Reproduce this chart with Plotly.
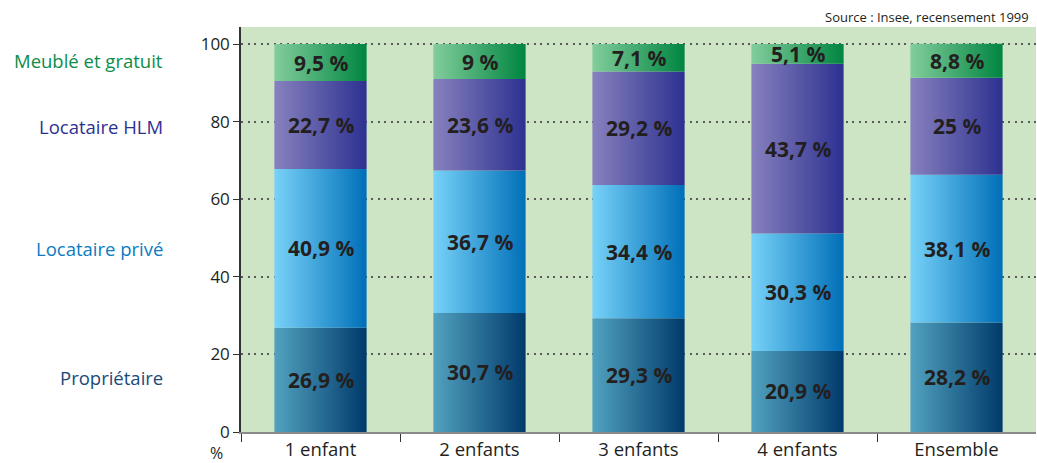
import plotly.graph_objects as go

# Household categories (x axis) and housing status shares, in %
categories = ["1 enfant", "2 enfants", "3 enfants", "4 enfants", "Ensemble"]
series_names = ["Propriétaire", "Locataire privé", "Locataire HLM", "Meublé et gratuit"]
proprietaire = [26.9, 30.7, 29.3, 20.9, 28.2]
locataire_prive = [40.9, 36.7, 34.4, 30.3, 38.1]
locataire_hlm = [22.7, 23.6, 29.2, 43.7, 25.0]
meuble_gratuit = [9.5, 9.0, 7.1, 5.1, 8.8]
y_ticks = [0, 20, 40, 60, 80, 100]

series_values = [proprietaire, locataire_prive, locataire_hlm, meuble_gratuit]

# Horizontal gradient (light -> dark) per series, and label colours
gradients = [
    ("#52a2c0", "#003a6a"),
    ("#78d2f8", "#006fb8"),
    ("#8781be", "#2d3190"),
    ("#82cd9c", "#008540"),
]
label_colors = ["#1a4a78", "#0a7cc1", "#2e3192", "#0d8c4a"]

FONT = "Open Sans"
TEXT_DARK = "#231f20"
BAR_WIDTH = 0.58
PLOT_W = 795
PLOT_H = 405
LEFT = 241

fig = go.Figure()

# Each stacked segment is a filled polygon with a horizontal gradient
for s, values in enumerate(series_values):
    c0, c1 = gradients[s]
    for i, v in enumerate(values):
        base = sum(series_values[k][i] for k in range(s))
        top = base + v
        x0, x1 = i - BAR_WIDTH / 2, i + BAR_WIDTH / 2
        fig.add_trace(go.Scatter(
            x=[x0, x1, x1, x0, x0],
            y=[base, base, top, top, base],
            mode="lines",
            line=dict(width=0),
            fill="toself",
            fillgradient=dict(type="horizontal",
                              colorscale=[[0, c0], [1, c1]]),
            hoverinfo="skip",
            showlegend=False,
        ))
        label = f"{v:g}".replace(".", ",") + " %"
        fig.add_annotation(
            x=i, y=base + v / 2, xref="x", yref="y",
            text=f"<b>{label}</b>", showarrow=False,
            font=dict(family=FONT, size=21, color=TEXT_DARK),
        )

# Series names on the left, level with the "Ensemble" segments
ens = [v[-1] for v in series_values]
for s, name in enumerate(series_names):
    base = sum(ens[:s])
    fig.add_annotation(
        x=(165 - LEFT) / PLOT_W, y=base + ens[s] / 2,
        xref="paper", yref="y", xanchor="right", yanchor="middle",
        text=name, showarrow=False,
        font=dict(family=FONT, size=18.5, color=label_colors[s]),
    )

# Unit label under the y axis
fig.add_annotation(
    x=(216 - LEFT) / PLOT_W, y=-21 / PLOT_H, xref="paper", yref="paper",
    xanchor="center", yanchor="middle",
    text="%", showarrow=False,
    font=dict(family=FONT, size=16, color=TEXT_DARK),
)

# Source line, top right
fig.add_annotation(
    x=(1031 - LEFT) / PLOT_W, y=1 + 10 / PLOT_H,
    xref="paper", yref="paper", xanchor="right", yanchor="middle",
    text="Source : Insee, recensement 1999", showarrow=False,
    font=dict(family=FONT, size=13, color=TEXT_DARK),
)

fig.update_layout(
    width=1037, height=463,
    margin=dict(l=LEFT, r=1, t=27, b=31),
    paper_bgcolor="white",
    plot_bgcolor="#cde5c4",
    font=dict(family=FONT, size=17, color=TEXT_DARK),
    showlegend=False,
)

fig.update_xaxes(
    range=[-0.5, 4.5],
    tickmode="array", tickvals=list(range(len(categories))), ticktext=categories,
    ticks="", showgrid=False, zeroline=False,
    showline=True, linecolor="#8a8a8a", linewidth=2,
    tickfont=dict(family=FONT, size=18.5, color=TEXT_DARK),
    minor=dict(tickmode="array", tickvals=[-0.5, 0.5, 1.5, 2.5, 3.5],
               ticks="outside", ticklen=8, tickwidth=1, tickcolor="#333333",
               showgrid=False),
)

fig.update_yaxes(
    range=[0, 104.4],
    tickmode="array", tickvals=y_ticks,
    ticks="outside", ticklen=6, tickwidth=1, tickcolor="#333333",
    showgrid=True, gridcolor="#5a5a5a", gridwidth=1.5, griddash="2px,4.5px",
    zeroline=False,
    showline=True, linecolor="#333333", linewidth=1.5,
    tickfont=dict(family=FONT, size=17, color=TEXT_DARK),
)

fig.write_html("out.html")
